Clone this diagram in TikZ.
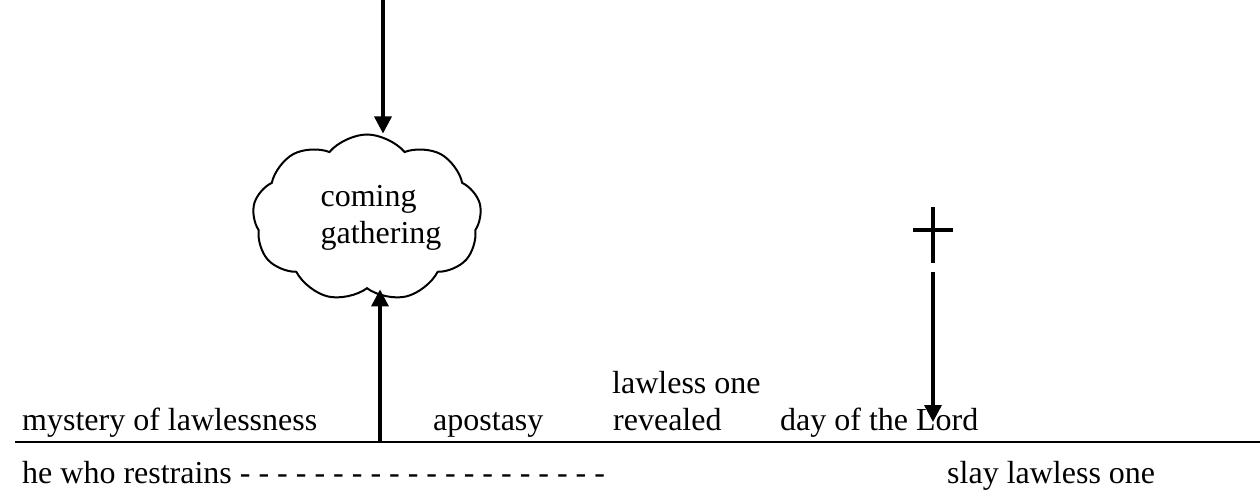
\documentclass[tikz,border=0pt]{standalone}
\usepackage{fontspec}
\setmainfont{Liberation Serif}
\usetikzlibrary{arrows.meta,shapes.symbols}

\begin{document}
\begin{tikzpicture}[x=1pt,y=-1pt,
  every node/.style={font=\fontsize{32}{37}\selectfont,inner sep=0pt},
  arr/.style={line width=3.4pt,-{Triangle[length=17pt,width=17pt]}}]
  \useasboundingbox (0,0) rectangle (1260,497);
  % time line
  \coordinate (lineL) at (15,442);
  \coordinate (lineR) at (1260,442);
  \draw[line width=2.6pt] (lineL) -- (lineR);
  % labels above the line
  \node[anchor=base west] (mystery) at (22,430) {mystery of lawlessness};
  \node[anchor=base west] (apostasy) at (433,430) {apostasy};
  \node[anchor=base west] (lawless) at (612,393) {lawless one};
  \node[anchor=base west] (revealed) at (613,430) {revealed};
  \node[anchor=base west] (day) at (780,430) {day of the Lord};
  % labels below the line
  \node[anchor=base west] (restrain) at (22,483) {he who restrains - - - - - - - - - - - - - - - - - - - -};
  \node[anchor=base west] (slay) at (947,483) {slay lawless one};
  % cloud
  \node[draw,cloud,cloud puffs=9,cloud puff arc=100,aspect=1.4,
    minimum width=229pt,minimum height=167pt,line width=2pt] (cloud) at (367,218) {};
  \node[align=left] (gather) at (381,218) {coming\\gathering};
  \coordinate (top) at (383,0);
  \draw[arr] (top) -- (top |- cloud.north);
  \coordinate (rise) at (380,441);
  \draw[arr] (rise) -- (rise |- cloud.south);
  % cross
  \draw[line width=4pt] (933,207) -- (933,263);
  \draw[line width=4pt] (913,230) -- (953,230);
  \coordinate (foot) at (933,272);
  \draw[arr] (foot) -- ([yshift=8pt]foot |- day.base);
\end{tikzpicture}
\end{document}
